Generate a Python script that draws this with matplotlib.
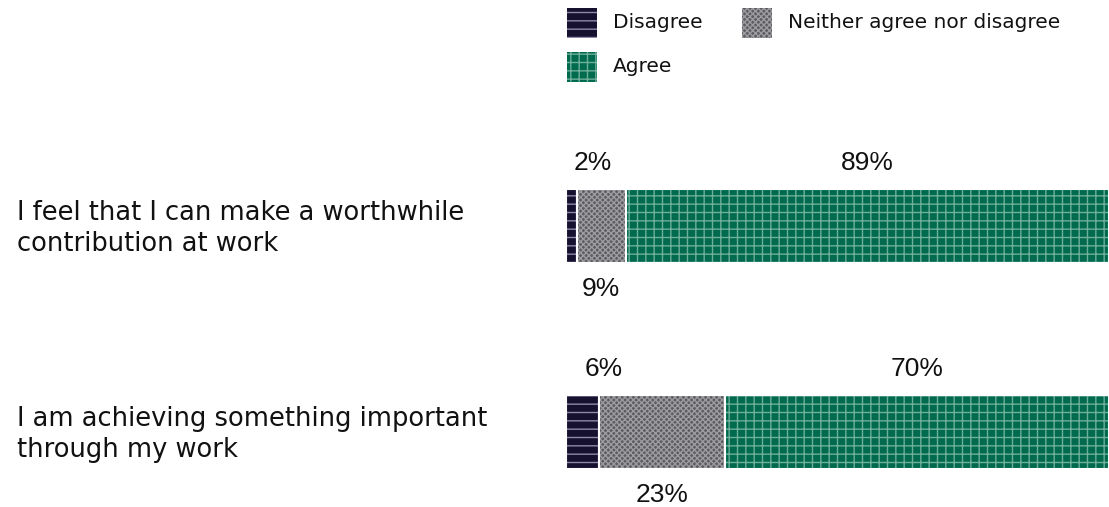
import matplotlib
matplotlib.use("Agg")
import matplotlib.pyplot as plt
from matplotlib.patches import Rectangle
from matplotlib.transforms import blended_transform_factory

plt.rcParams['font.family'] = ['DejaVu Sans']
plt.rcParams['hatch.linewidth'] = 1.0

# ---- data ----
categories = ["I feel that I can make a worthwhile\ncontribution at work",
              "I am achieving something important\nthrough my work"]
series_names = ["Disagree", "Neither agree nor disagree", "Agree"]
disagree = [2, 6]
neither = [9, 23]
agree = [89, 70]

# ---- style ----
face = {"Disagree": "#16112e", "Neither agree nor disagree": "#5c5c60", "Agree": "#006a4e"}
hatchc = {"Disagree": "#8e8aa6", "Neither agree nor disagree": "#9c9ca0", "Agree": "#6fae99"}
hatches = {"Disagree": "--", "Neither agree nor disagree": "xxxxxx", "Agree": "++"}
pct_font = ['Liberation Sans', 'DejaVu Sans']

W, H = 1109, 507
fig = plt.figure(figsize=(W / 100, H / 100), dpi=100)
top_px, bot_px = 226 - 0.6 * 206, 432 + 0.3 * 206
ax = fig.add_axes([566 / W, 1 - bot_px / H, 1 - 566 / W, (bot_px - top_px) / H])
ax.set_xlim(0, 100)
ax.set_ylim(1.3, -0.6)
ax.axis('off')

bar_h = 74 / 206
ypos = list(range(len(categories)))
series = [disagree, neither, agree]
totals = [sum(s[i] for s in series) for i in ypos]
lefts = [0] * len(categories)
for name, vals in zip(series_names, series):
    widths = [v / t * 100 for v, t in zip(vals, totals)]
    ax.barh(ypos, widths, left=lefts, height=bar_h, color=face[name],
            edgecolor=hatchc[name], hatch=hatches[name], linewidth=0)
    ax.barh(ypos, widths, left=lefts, height=bar_h, fill=False,
            edgecolor='white', linewidth=1.5)
    for i, (v, w) in enumerate(zip(vals, widths)):
        cx = lefts[i] + w / 2
        if name == "Disagree":
            x, y = cx + 4, i - bar_h / 2 - 0.126
        elif name == "Agree":
            x, y = cx, i - bar_h / 2 - 0.126
        else:
            x, y = cx, i + bar_h / 2 + 0.126
        ax.text(x, y, f"{v}%", ha='center', va='center', fontsize=19,
                family=pct_font, color='#111111')
    lefts = [l + w for l, w in zip(lefts, widths)]

trans = blended_transform_factory(fig.transFigure, ax.transData)
for i, c in enumerate(categories):
    ax.text(17 / W, i + 0.01, c, transform=trans, ha='left', va='center', fontsize=18.5,
            linespacing=1.25, color='#111111')

# legend (manual, in figure pixels)
legend_items = [("Disagree", 567, 8), ("Neither agree nor disagree", 742, 8), ("Agree", 567, 52)]
for name, lx, ly in legend_items:
    fig.add_artist(Rectangle((lx / W, 1 - (ly + 30) / H), 30 / W, 30 / H, transform=fig.transFigure,
                             facecolor=face[name], edgecolor=hatchc[name], hatch=hatches[name], linewidth=0))
    fig.text((lx + 46) / W, 1 - (ly + 15) / H, name, ha='left', va='center', fontsize=14.5, color='#111111')

fig.savefig("out.png", dpi=100)
